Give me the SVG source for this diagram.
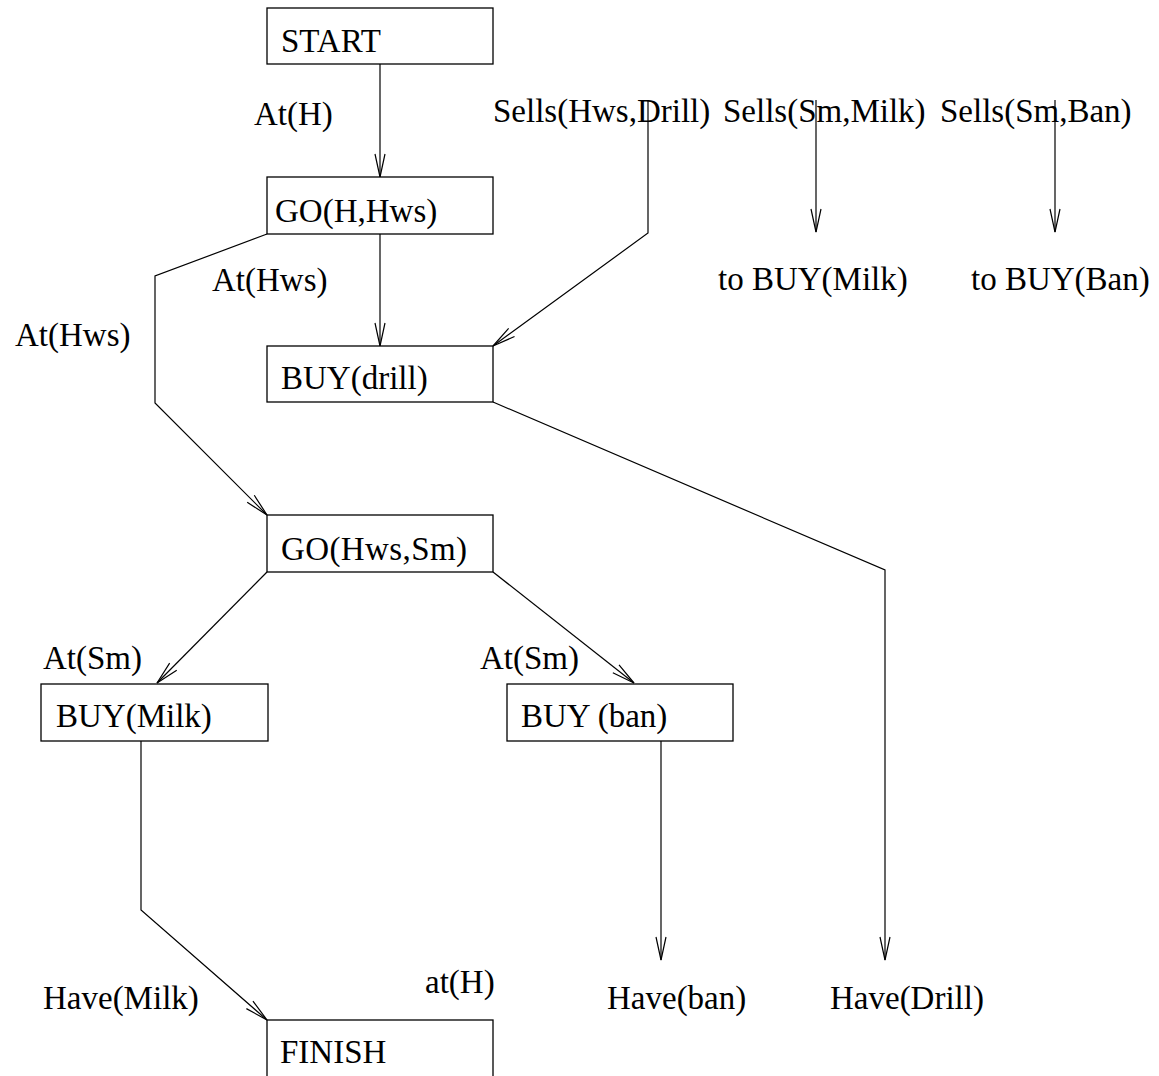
<svg xmlns="http://www.w3.org/2000/svg" width="1159" height="1076" viewBox="0 0 1159 1076">
<style>
text{font-family:"Liberation Serif","Times New Roman",serif;font-size:33px;fill:#000}
.box{fill:#fff;stroke:#000;stroke-width:1.3}
.c{fill:none;stroke:#000;stroke-width:1.2}
</style>
<defs>
<marker id="ah" markerUnits="userSpaceOnUse" viewBox="-25 -8 27 16" refX="0" refY="0" markerWidth="27" markerHeight="16" orient="auto">
<path d="M-23,-5 L0,0 L-23,5" fill="none" stroke="#000" stroke-width="1.2"/>
</marker>
</defs>
<rect width="1159" height="1076" fill="#fff"/>
<g id="connectors">
<line class="c" x1="380" y1="64" x2="380" y2="177" marker-end="url(#ah)"/>
<line class="c" x1="380" y1="234" x2="380" y2="346" marker-end="url(#ah)"/>
<polyline class="c" points="267,234 155,276 155,403 267,515" marker-end="url(#ah)"/>
<polyline class="c" points="648,100 648,233 493,346" marker-end="url(#ah)"/>
<line class="c" x1="816" y1="100" x2="816" y2="232" marker-end="url(#ah)"/>
<line class="c" x1="1055" y1="100" x2="1055" y2="232" marker-end="url(#ah)"/>
<polyline class="c" points="493,402 885,570 885,960" marker-end="url(#ah)"/>
<line class="c" x1="267" y1="572" x2="157" y2="683" marker-end="url(#ah)"/>
<line class="c" x1="493" y1="572" x2="634" y2="683" marker-end="url(#ah)"/>
<polyline class="c" points="141,740 141,910 267,1020" marker-end="url(#ah)"/>
<line class="c" x1="661" y1="740" x2="661" y2="960" marker-end="url(#ah)"/>
</g>
<g id="start"><rect class="box" x="267" y="8" width="226" height="56"/><text x="281" y="52">START</text></g>
<g id="go-h-hws"><rect class="box" x="267" y="177" width="226" height="57"/><text x="275" y="222">GO(H,Hws)</text></g>
<g id="buy-drill"><rect class="box" x="267" y="346" width="226" height="56"/><text x="281" y="389">BUY(drill)</text></g>
<g id="go-hws-sm"><rect class="box" x="267" y="515" width="226" height="57"/><text x="281" y="560" textLength="186">GO(Hws,Sm)</text></g>
<g id="buy-milk"><rect class="box" x="41" y="684" width="227" height="57"/><text x="56" y="727">BUY(Milk)</text></g>
<g id="buy-ban"><rect class="box" x="507" y="684" width="226" height="57"/><text x="521" y="727">BUY (ban)</text></g>
<g id="finish"><rect class="box" x="267" y="1020" width="226" height="70"/><text x="280" y="1063">FINISH</text></g>
<g id="labels">
<text x="254" y="125">At(H)</text>
<text x="212" y="291">At(Hws)</text>
<text x="15" y="346">At(Hws)</text>
<text x="493" y="122">Sells(Hws,Drill)</text>
<text x="723" y="122">Sells(Sm,Milk)</text>
<text x="940" y="122">Sells(Sm,Ban)</text>
<text x="718" y="290">to BUY(Milk)</text>
<text x="971" y="290">to BUY(Ban)</text>
<text x="43" y="669">At(Sm)</text>
<text x="480" y="669">At(Sm)</text>
<text x="43" y="1009">Have(Milk)</text>
<text x="425" y="993">at(H)</text>
<text x="607" y="1009">Have(ban)</text>
<text x="830" y="1009">Have(Drill)</text>
</g>
</svg>
